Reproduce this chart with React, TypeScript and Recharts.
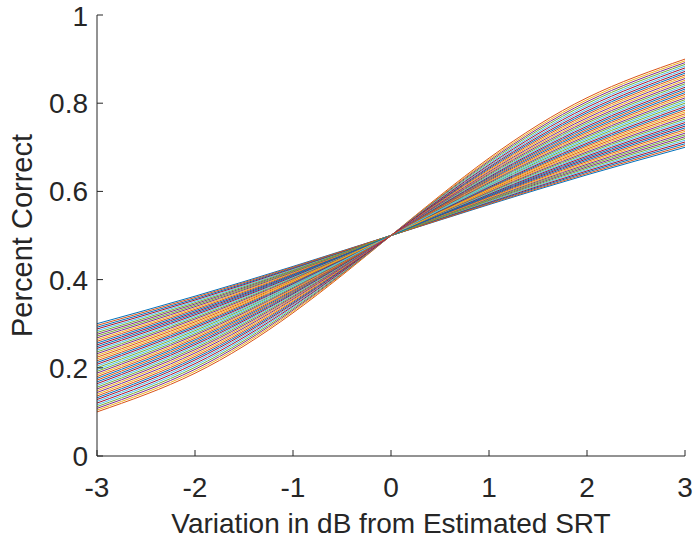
import { CartesianGrid, Label, Line, LineChart, XAxis, YAxis } from 'recharts'

// x positions (dB from estimated SRT) where each fitted curve is sampled
const xValues = [-3, -2, -1, 0, 1, 2, 3]

// proportion correct of every curve at each x position (same curve order in every list)
const pAtMinus3 = [
  0.300, 0.296, 0.292, 0.288, 0.284, 0.280, 0.276, 0.272, 0.268, 0.264, 0.260, 0.256, 0.252,
  0.248, 0.244, 0.240, 0.236, 0.232, 0.228, 0.224, 0.220, 0.216, 0.212, 0.208, 0.204, 0.200,
  0.196, 0.192, 0.188, 0.184, 0.180, 0.176, 0.172, 0.168, 0.164, 0.160, 0.156, 0.152, 0.148,
  0.144, 0.140, 0.136, 0.132, 0.128, 0.124, 0.120, 0.116, 0.112, 0.108, 0.104, 0.100,
]
const pAtMinus2 = [
  0.3624, 0.3595, 0.3565, 0.3536, 0.3506, 0.3476, 0.3446, 0.3416, 0.3386, 0.3355, 0.3324, 0.3293, 0.3262,
  0.3231, 0.3200, 0.3168, 0.3136, 0.3105, 0.3072, 0.3040, 0.3007, 0.2974, 0.2941, 0.2908, 0.2875, 0.2841,
  0.2807, 0.2772, 0.2738, 0.2703, 0.2668, 0.2632, 0.2597, 0.2561, 0.2524, 0.2487, 0.2450, 0.2412, 0.2374,
  0.2335, 0.2296, 0.2257, 0.2217, 0.2177, 0.2136, 0.2094, 0.2053, 0.2010, 0.1966, 0.1922, 0.1877,
]
const pAtMinus1 = [
  0.4299, 0.4283, 0.4267, 0.4252, 0.4236, 0.4220, 0.4203, 0.4187, 0.4171, 0.4154, 0.4137, 0.4120, 0.4103,
  0.4086, 0.4068, 0.4051, 0.4033, 0.4016, 0.3997, 0.3979, 0.3961, 0.3942, 0.3923, 0.3904, 0.3884, 0.3865,
  0.3845, 0.3825, 0.3804, 0.3784, 0.3763, 0.3741, 0.3719, 0.3697, 0.3675, 0.3652, 0.3629, 0.3605, 0.3581,
  0.3557, 0.3532, 0.3506, 0.3480, 0.3453, 0.3426, 0.3398, 0.3370, 0.3340, 0.3310, 0.3279, 0.3246,
]
const pAt0 = [
  0.5, 0.5, 0.5, 0.5, 0.5, 0.5, 0.5, 0.5, 0.5, 0.5, 0.5, 0.5, 0.5,
  0.5, 0.5, 0.5, 0.5, 0.5, 0.5, 0.5, 0.5, 0.5, 0.5, 0.5, 0.5, 0.5,
  0.5, 0.5, 0.5, 0.5, 0.5, 0.5, 0.5, 0.5, 0.5, 0.5, 0.5, 0.5, 0.5,
  0.5, 0.5, 0.5, 0.5, 0.5, 0.5, 0.5, 0.5, 0.5, 0.5, 0.5, 0.5,
]
const pAt1 = [
  0.5701, 0.5717, 0.5733, 0.5748, 0.5764, 0.5780, 0.5797, 0.5813, 0.5829, 0.5846, 0.5863, 0.5880, 0.5897,
  0.5914, 0.5932, 0.5949, 0.5967, 0.5984, 0.6003, 0.6021, 0.6039, 0.6058, 0.6077, 0.6096, 0.6116, 0.6135,
  0.6155, 0.6175, 0.6196, 0.6216, 0.6237, 0.6259, 0.6281, 0.6303, 0.6325, 0.6348, 0.6371, 0.6395, 0.6419,
  0.6443, 0.6468, 0.6494, 0.6520, 0.6547, 0.6574, 0.6602, 0.6630, 0.6660, 0.6690, 0.6721, 0.6754,
]
const pAt2 = [
  0.6376, 0.6405, 0.6435, 0.6464, 0.6494, 0.6524, 0.6554, 0.6584, 0.6614, 0.6645, 0.6676, 0.6707, 0.6738,
  0.6769, 0.6800, 0.6832, 0.6864, 0.6895, 0.6928, 0.6960, 0.6993, 0.7026, 0.7059, 0.7092, 0.7125, 0.7159,
  0.7193, 0.7228, 0.7262, 0.7297, 0.7332, 0.7368, 0.7403, 0.7439, 0.7476, 0.7513, 0.7550, 0.7588, 0.7626,
  0.7665, 0.7704, 0.7743, 0.7783, 0.7823, 0.7864, 0.7906, 0.7947, 0.7990, 0.8034, 0.8078, 0.8123,
]
const pAt3 = [
  0.700, 0.704, 0.708, 0.712, 0.716, 0.720, 0.724, 0.728, 0.732, 0.736, 0.740, 0.744, 0.748,
  0.752, 0.756, 0.760, 0.764, 0.768, 0.772, 0.776, 0.780, 0.784, 0.788, 0.792, 0.796, 0.800,
  0.804, 0.808, 0.812, 0.816, 0.820, 0.824, 0.828, 0.832, 0.836, 0.840, 0.844, 0.848, 0.852,
  0.856, 0.860, 0.864, 0.868, 0.872, 0.876, 0.880, 0.884, 0.888, 0.892, 0.896, 0.900,
]

const xTicks = [-3, -2, -1, 0, 1, 2, 3]
const yTicks = [0, 0.2, 0.4, 0.6, 0.8, 1]

// matlab default line colour order
const colors = ['#0072BD', '#D95319', '#EDB120', '#7E2F8E', '#77AC30', '#4DBEEE', '#A2142F']

const columns = [pAtMinus3, pAtMinus2, pAtMinus1, pAt0, pAt1, pAt2, pAt3]
const nCurves = pAt3.length

const data = xValues.map((x, j) => {
  const row: Record<string, number> = { x }
  columns[j].forEach((v, i) => {
    row['c' + i] = v
  })
  return row
})

// plot curves in a mixed order so the colours don't band
const plotOrder = Array.from({ length: nCurves }, (_, k) => (k * 19) % nCurves)

const font = '"Liberation Sans", Arial, Helvetica, sans-serif'
const axisColor = '#262626'

export default function App() {
  return (
    <div style={{ position: 'fixed', left: 0, top: 0, width: 693, height: 540, background: '#fff' }}>
      <LineChart width={693} height={540} data={data} margin={{ top: 15, right: 8, left: 0, bottom: 0 }}>
        <CartesianGrid stroke="none" />
        <XAxis
          dataKey="x"
          type="number"
          domain={[-3, 3]}
          ticks={xTicks}
          height={84}
          stroke={axisColor}
          tickSize={-6}
          tickMargin={27}
          tick={{ fill: axisColor, fontSize: 28, fontFamily: font }}
        >
          <Label
            value="Variation in dB from Estimated SRT"
            position="insideBottom"
            offset={7}
            style={{ fill: axisColor, fontSize: 28, fontFamily: font }}
          />
        </XAxis>
        <YAxis
          type="number"
          domain={[0, 1]}
          ticks={yTicks}
          width={97}
          stroke={axisColor}
          tickSize={-6}
          tickMargin={15}
          tick={{ fill: axisColor, fontSize: 28, fontFamily: font }}
        >
          <Label
            value="Percent Correct"
            angle={-90}
            position="insideLeft"
            offset={22}
            style={{ fill: axisColor, fontSize: 29, fontFamily: font, textAnchor: 'middle' }}
          />
        </YAxis>
        {plotOrder.map((i, k) => (
          <Line
            key={i}
            type="natural"
            dataKey={'c' + i}
            stroke={colors[k % colors.length]}
            strokeWidth={1}
            dot={false}
            activeDot={false}
            isAnimationActive={false}
          />
        ))}
      </LineChart>
    </div>
  )
}
